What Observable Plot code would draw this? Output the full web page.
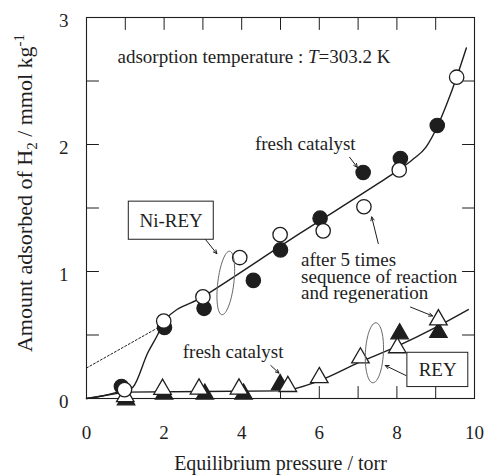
<!DOCTYPE html>
<html>
<head>
<meta charset="utf-8">
<script src="https://cdn.jsdelivr.net/npm/d3@7"></script>
<script src="https://cdn.jsdelivr.net/npm/@observablehq/plot@0.6"></script>
<style>
  html, body { margin: 0; padding: 0; background: #fff; }
  #chart svg text { font-family: "Liberation Serif", "Times New Roman", serif !important; }
</style>
</head>
<body>
<div id="chart"></div>
<script>
// ---------- data ----------
// Ni-REY, fresh catalyst (filled circles)
const niFreshX = [0.90, 2.01, 3.03, 4.30, 5.00, 6.02, 7.13, 8.09, 9.04];
const niFreshY = [0.095, 0.56, 0.71, 0.93, 1.17, 1.42, 1.78, 1.89, 2.15];
// Ni-REY, after 5 times sequence of reaction and regeneration (open circles)
const niAfterX = [0.98, 1.99, 3.00, 3.95, 4.99, 6.10, 7.15, 8.06, 9.54];
const niAfterY = [0.07, 0.61, 0.80, 1.11, 1.29, 1.32, 1.51, 1.80, 2.53];
// REY, fresh catalyst (filled triangles)
const reyFreshX = [1.02, 2.00, 3.05, 4.05, 4.99, 8.07, 9.07];
const reyFreshY = [-0.01, 0.035, 0.035, 0.035, 0.11, 0.51, 0.52];
// REY, after 5 times (open triangles)
const reyAfterX = [1.00, 1.96, 2.90, 3.93, 5.19, 6.00, 7.06, 8.01, 9.07];
const reyAfterY = [0.015, 0.073, 0.075, 0.075, 0.095, 0.165, 0.32, 0.40, 0.62];
// fitted curves
const niCurveX = [0, 0.4, 0.8, 1.1, 1.2, 1.58, 1.83, 2.0, 3.0, 5.5, 7.5, 8.0, 8.4, 8.75, 9.04, 9.3, 9.54, 9.79];
const niCurveY = [0, 0.02, 0.05, 0.07, 0.09, 0.36, 0.50, 0.61, 0.80, 1.30, 1.69, 1.79, 1.88, 1.98, 2.14, 2.33, 2.53, 2.76];
const reyCurveX = [0, 0.8, 1.0, 5.0, 6.0, 7.0, 8.0, 9.0, 9.84];
const reyCurveY = [0, 0.04, 0.05, 0.06, 0.14, 0.28, 0.41, 0.56, 0.70];
// extrapolation (dotted)
const dotLineX = [0, 1.8];
const dotLineY = [0.24, 0.55];
// ticks
const xTickLabels = [0, 2, 4, 6, 8, 10];
const yTickLabels = [0, 1, 2, 3];
const xMinorTicks = [1, 2, 3, 4, 5, 6, 7, 8, 9];
const yMinorTicks = [0.5, 1, 1.5, 2, 2.5];
// text
const xTitle = "Equilibrium pressure / torr";
const yTitle = "Amount adsorbed of H2 / mmol kg-1";
const notes = [
  {x: 0.80, y: 2.68, text: "adsorption temperature : T=303.2 K"},
  {x: 4.34, y: 2.00, text: "fresh catalyst"},
  {x: 5.53, y: 0.955, text: "after 5 times\nsequence of reaction\nand regeneration"},
  {x: 2.48, y: 0.36, text: "fresh catalyst"}
];
const boxes = [
  {label: "Ni-REY", x1: 1.09, x2: 3.28, y1: 1.25, y2: 1.55, cx: 2.18, cy: 1.40},
  {label: "REY", x1: 8.27, x2: 9.84, y1: 0.09, y2: 0.36, cx: 9.05, cy: 0.225}
];
const arrows = [
  {x1: 6.78, y1: 1.90, x2: 6.98, y2: 1.82},
  {x1: 7.52, y1: 1.22, x2: 7.35, y2: 1.43},
  {x1: 3.02, y1: 1.27, x2: 3.36, y2: 1.14},
  {x1: 8.24, y1: 0.18, x2: 7.70, y2: 0.26},
  {x1: 4.75, y1: 0.26, x2: 4.96, y2: 0.20},
  {x1: 8.35, y1: 0.72, x2: 8.92, y2: 0.65}
];
const ellipses = [
  {x: 3.59, y: 0.91, rx: 8, ry: 32, tilt: 7},
  {x: 7.42, y: 0.36, rx: 9, ry: 30, tilt: 3}
];

// ---------- helpers ----------
const zip = (xs, ys) => xs.map((x, i) => ({x, y: ys[i]}));
const FONT = "Liberation Serif";
const INK = "#1e1e1e";
const FS = 19;
const TICK = 12;

function ellipseSymbol(rx, ry, tiltDeg) {
  const a = tiltDeg * Math.PI / 180, c = Math.cos(a), s = Math.sin(a), k = 0.5523;
  const P = (x, y) => [x * c - y * s, x * s + y * c];
  return {
    draw(ctx) {
      ctx.moveTo(...P(rx, 0));
      ctx.bezierCurveTo(...P(rx, k * ry), ...P(k * rx, ry), ...P(0, ry));
      ctx.bezierCurveTo(...P(-k * rx, ry), ...P(-rx, k * ry), ...P(-rx, 0));
      ctx.bezierCurveTo(...P(-rx, -k * ry), ...P(-k * rx, -ry), ...P(0, -ry));
      ctx.bezierCurveTo(...P(k * rx, -ry), ...P(rx, -k * ry), ...P(rx, 0));
      ctx.closePath();
    }
  };
}
// straight tick shape for vector marks
const tickShape = {draw(ctx, l) { ctx.moveTo(0, 0); ctx.lineTo(0, -l); }};
const tickOpts = {length: TICK, anchor: "start", shape: tickShape, stroke: INK, strokeWidth: 1};

const chart = Plot.plot({
  width: 484,
  height: 475,
  marginLeft: 86,
  marginRight: 10,
  marginTop: 17,
  marginBottom: 77,
  x: {domain: [0, 10]},
  y: {domain: [0, 3]},
  style: {fontFamily: FONT, fontSize: FS + "px", color: INK, background: "white"},
  marks: [
    // inward ticks on all four sides
    Plot.vector(xMinorTicks, {x: d => d, y: 0, rotate: 0, ...tickOpts}),
    Plot.vector(xMinorTicks, {x: d => d, y: 3, rotate: 180, ...tickOpts}),
    Plot.vector(yMinorTicks, {x: 0, y: d => d, rotate: 90, ...tickOpts}),
    Plot.vector(yMinorTicks, {x: 10, y: d => d, rotate: -90, ...tickOpts}),
    Plot.frame({stroke: INK, strokeWidth: 1.1}),
    Plot.axisX({ticks: xTickLabels, tickSize: 0, tickPadding: 27, label: null, fontSize: FS, fontFamily: FONT, tickFormat: d => String(d)}),
    Plot.axisY({ticks: yTickLabels, tickSize: 0, tickPadding: 18, label: null, fontSize: FS, fontFamily: FONT, dy: 3, tickFormat: d => String(d)}),
    Plot.text([xTitle], {frameAnchor: "bottom", dy: 65, lineAnchor: "middle", textAnchor: "middle", fontSize: 20, fontFamily: FONT, fill: INK}),
    Plot.text([yTitle], {frameAnchor: "left", dx: -62, dy: -15, rotate: -90, lineAnchor: "middle", textAnchor: "middle", fontSize: 22, fontFamily: FONT, fill: INK}),

    // curves
    Plot.line(zip(dotLineX, dotLineY), {x: "x", y: "y", stroke: INK, strokeWidth: 1, strokeDasharray: "2,2"}),
    Plot.line(zip(niCurveX, niCurveY), {x: "x", y: "y", curve: "monotone-x", stroke: INK, strokeWidth: 1.4}),
    Plot.line(zip(reyCurveX, reyCurveY), {x: "x", y: "y", curve: "monotone-x", stroke: INK, strokeWidth: 1.4}),

    // REY triangles
    Plot.dot(zip(reyFreshX, reyFreshY), {x: "x", y: "y", symbol: "triangle", r: 6.5, fill: INK, stroke: INK, strokeWidth: 1.2}),
    Plot.dot(zip(reyAfterX, reyAfterY), {x: "x", y: "y", symbol: "triangle", r: 6.5, fill: "white", stroke: INK, strokeWidth: 1.3}),
    // Ni-REY circles
    Plot.dot(zip(niFreshX, niFreshY), {x: "x", y: "y", r: 7.2, fill: INK, stroke: INK, strokeWidth: 1.2}),
    Plot.dot(zip(niAfterX, niAfterY), {x: "x", y: "y", r: 7.2, fill: "white", stroke: INK, strokeWidth: 1.3}),

    // ellipses grouping the series
    ...ellipses.map(e => Plot.dot([e], {x: "x", y: "y", symbol: ellipseSymbol(e.rx, e.ry, e.tilt), fill: "none", stroke: "#666", strokeWidth: 1})),

    // arrows
    Plot.arrow(arrows, {x1: "x1", y1: "y1", x2: "x2", y2: "y2", stroke: INK, strokeWidth: 1, headLength: 6, headAngle: 50}),

    // boxes with labels
    Plot.rect(boxes, {x1: "x1", x2: "x2", y1: "y1", y2: "y2", fill: "white", stroke: INK, strokeWidth: 1}),
    Plot.text(boxes, {x: "cx", y: "cy", text: "label", fontSize: FS, fontFamily: FONT, fill: INK}),

    // notes
    Plot.text(notes, {x: "x", y: "y", text: "text", textAnchor: "start", fontSize: FS, fontFamily: FONT, lineHeight: 0.88, fill: INK})
  ]
});

// rich text: italic T, subscript 2, superscript -1
d3.select(chart).selectAll("text").each(function () {
  const t = d3.select(this);
  const s = this.textContent;
  if (s === "adsorption temperature : T=303.2 K") {
    t.text(null);
    t.append("tspan").text("adsorption temperature : ");
    t.append("tspan").attr("font-style", "italic").text("T");
    t.append("tspan").text("=303.2 K");
  } else if (s === yTitle) {
    t.text(null);
    t.append("tspan").text("Amount adsorbed of H");
    t.append("tspan").attr("font-size", 15).attr("dy", 5).text("2");
    t.append("tspan").attr("dy", -5).text(" / mmol kg");
    t.append("tspan").attr("font-size", 15).attr("dy", -8).text("-1");
  }
});

document.getElementById("chart").appendChild(chart);
</script>
</body>
</html>
